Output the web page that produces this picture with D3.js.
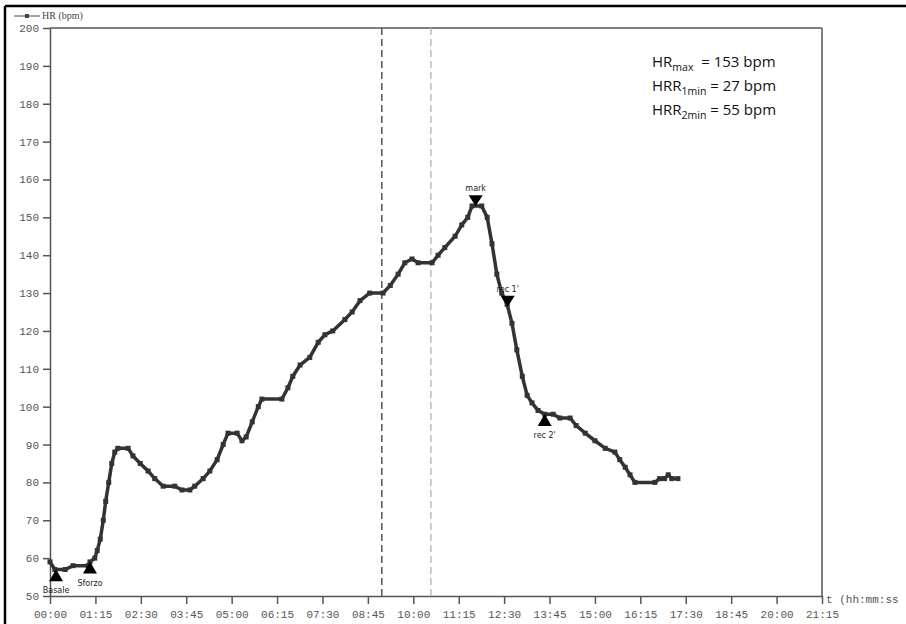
<!DOCTYPE html>
<html><head><meta charset="utf-8">
<script src="https://cdn.jsdelivr.net/npm/d3@7"></script>
<style>body{margin:0;background:#fff}svg{display:block}</style>
</head><body>
<script>
// time in seconds, HR in bpm
const times = [0,8,25,38,63,66,74,78,83,88,92,97,102,107,112,129,137,149,162,173,187,206,218,231,239,253,264,276,286,294,309,317,324,334,344,350,383,393,401,413,429,443,454,467,487,499,512,528,550,562,575,586,598,608,631,641,652,669,680,690,697,713,722,730,738,746,755,763,771,780,788,796,806,817,831,842,859,869,884,900,917,933,941,950,958,966,999,1007,1015,1021,1027,1037];
const hr    = [59,57,57,58,58,59,60,62,65,70,75,80,85,88,89,89,87,85,83,81,79,79,78,78,79,81,83,86,90,93,93,91,92,96,100,102,102,105,108,111,113,117,119,120,123,125,128,130,130,132,135,138,139,138,138,140,142,145,148,150,153,153,150,143,135,130,127,122,115,108,103,101,99,98,98,97,97,95,93,91,89,88,86,84,82,80,80,81,81,82,81,81];
const yTicks = [50,60,70,80,90,100,110,120,130,140,150,160,170,180,190,200];
const xTicks = [0,75,150,225,300,375,450,525,600,675,750,825,900,975,1050,1125,1200,1275];
const events = [
  {name:"Basale", t:10, v:55.5, dir:"up"},
  {name:"Sforzo", t:66, v:57.5, dir:"up"},
  {name:"mark", t:703, v:154.5, dir:"down"},
  {name:"rec 1'", t:756, v:128, dir:"down"},
  {name:"rec 2'", t:817, v:96.5, dir:"up"}
];
const vLines = [{t:548, color:"#555"},{t:629, color:"#bbb"}];
const notes = [["HR","max","\u00a0\u00a0= 153 bpm"],["HRR","1min"," = 27 bpm"],["HRR","2min"," = 55 bpm"]];

const W=906,H=624;
const svg=d3.select("body").append("svg").attr("width",W).attr("height",H);
const x=d3.scaleLinear().domain([0,1275]).range([50,822]);
const y=d3.scaleLinear().domain([50,200]).range([596,28]);
const mono="'Liberation Mono','DejaVu Sans Mono',monospace";

// outer frame
svg.append("line").attr("x1",5).attr("x2",W).attr("y1",6).attr("y2",6).attr("stroke","#000").attr("stroke-width",2.5);
svg.append("line").attr("x1",5).attr("x2",5).attr("y1",6).attr("y2",H).attr("stroke","#000").attr("stroke-width",2.5);

// plot box
svg.append("line").attr("x1",50).attr("x2",822).attr("y1",28).attr("y2",28).attr("stroke","#555").attr("stroke-width",1.5);
svg.append("line").attr("x1",822).attr("x2",822).attr("y1",28).attr("y2",596).attr("stroke","#555").attr("stroke-width",1.5);

// axes
const yAx=svg.append("g").attr("transform","translate(50,0)")
  .call(d3.axisLeft(y).tickValues(yTicks).tickSize(7).tickSizeOuter(0).tickPadding(4));
const xAx=svg.append("g").attr("transform","translate(0,596)")
  .call(d3.axisBottom(x).tickValues(xTicks).tickSize(8).tickSizeOuter(0).tickPadding(4)
    .tickFormat(d=>{const m=Math.floor(d/60),s=d%60;return String(m).padStart(2,"0")+":"+String(s).padStart(2,"0");}));
[yAx,xAx].forEach(g=>{
  g.selectAll("path,line").attr("stroke","#555").attr("stroke-width",1.5);
  g.selectAll("text").attr("font-family",mono).attr("font-size",11).attr("fill","#555");
});
xAx.selectAll("text").attr("dy","0.9em");

svg.append("text").attr("x",826).attr("y",603).attr("font-family",mono).attr("font-size",11).attr("fill","#555").text("t (hh:mm:ss");

// vertical dashed lines
vLines.forEach(v=>{
  svg.append("line").attr("x1",x(v.t)).attr("x2",x(v.t)).attr("y1",28).attr("y2",596)
    .attr("stroke",v.color).attr("stroke-width",1.5).attr("stroke-dasharray","7,4");
});

// legend
svg.append("line").attr("x1",14).attr("x2",40).attr("y1",16).attr("y2",16).attr("stroke","#444").attr("stroke-width",1);
svg.append("rect").attr("x",25).attr("y",14).attr("width",4).attr("height",4).attr("fill","#444");
svg.append("text").attr("x",42).attr("y",19).attr("font-family","'Liberation Serif',serif").attr("font-size",10).attr("fill","#444").text("HR (bpm)");

// data line
const pts=times.map((t,i)=>[t,hr[i]]);
svg.append("path").datum(pts)
  .attr("d",d3.line().x(d=>x(d[0])).y(d=>y(d[1])))
  .attr("fill","none").attr("stroke","#333").attr("stroke-width",3.5).attr("stroke-linejoin","miter");
svg.selectAll("rect.pt").data(pts).join("rect").attr("class","pt")
  .attr("x",d=>x(d[0])-2.5).attr("y",d=>y(d[1])-2.5).attr("width",5).attr("height",5).attr("fill","#333");

// event markers
events.forEach(e=>{
  const cx=x(e.t), cy=y(e.v);
  let p, ly;
  if(e.dir==="up"){ p=[[cx-7,cy+6],[cx+7,cy+6],[cx,cy-6]]; ly=cy+18; }
  else { p=[[cx-7,cy-5],[cx+7,cy-5],[cx,cy+6]]; ly=cy-9; }
  svg.append("polygon").attr("points",p.map(q=>q.join(",")).join(" ")).attr("fill","#000");
  svg.append("text").attr("x",cx).attr("y",ly).attr("text-anchor","middle")
    .attr("font-family","'DejaVu Sans',sans-serif").attr("font-size",8).attr("fill","#222").text(e.name);
});

// annotation
notes.forEach((n,i)=>{
  const t=svg.append("text").attr("x",652).attr("y",67+i*24).attr("font-family","'Open Sans','Noto Sans',sans-serif").attr("font-size",15).attr("fill","#111");
  t.append("tspan").text(n[0]);
  t.append("tspan").attr("dy",4).attr("font-size",10.5).text(n[1]);
  t.append("tspan").attr("dy",-4).text(n[2]);
});
</script>
</body></html>
